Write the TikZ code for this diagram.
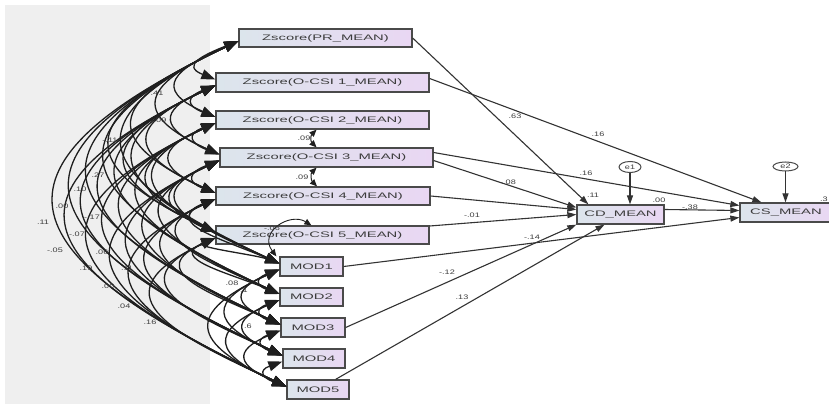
\documentclass[tikz,border=0pt]{standalone}
\usepackage{fontspec}
\setmainfont{Liberation Sans}
\usetikzlibrary{arrows.meta,calc,shapes.geometric}
\definecolor{bgl}{HTML}{EFEFEF}
\definecolor{boxl}{HTML}{DCE5EC}
\definecolor{boxr}{HTML}{E9D7F3}
\definecolor{edge}{HTML}{4A4A4A}
\definecolor{txt}{HTML}{3C3C3C}
\newcommand{\bt}[1]{\scalebox{1.85}[1]{\fontsize{8}{9}\selectfont #1}}
\newcommand{\lt}[1]{\scalebox{1.4}[1]{\fontsize{6.5}{7}\selectfont #1}}
\begin{document}
\begin{tikzpicture}[x=1pt,y=-1pt,
  box/.style={draw=edge,line width=1.3pt,left color=boxl,right color=boxr,inner sep=0pt,text=txt},
  pth/.style={draw=black!80,line width=1.1pt,-{Triangle[length=9pt,width=6pt]}},
  cov/.style={draw=black!88,line width=1.3pt,{Triangle[length=14pt,width=10pt]}-{Triangle[length=14pt,width=10pt]}},
  scov/.style={draw=black!88,line width=1pt,{Triangle[length=7pt,width=6pt]}-{Triangle[length=7pt,width=6pt]}},
  lab/.style={text=txt,inner sep=0pt},
  err/.style={ellipse,draw=edge,line width=1pt,fill=white,inner sep=0pt,minimum width=22pt,minimum height=11pt,text=txt}]
\useasboundingbox (0,0) rectangle (829,406);
\fill[white] (0,0) rectangle (829,406);
\fill[bgl] (5,5) rectangle (210,404);

% observed variables
\node[box,minimum width=173pt,minimum height=18pt] (PR) at (325.5,38) {\bt{Zscore(PR\_MEAN)}};
\node[box,minimum width=213pt,minimum height=19pt] (C1) at (322.5,82.5) {\bt{Zscore(O-CSI 1\_MEAN)}};
\node[box,minimum width=213pt,minimum height=18pt] (C2) at (322.5,120) {\bt{Zscore(O-CSI 2\_MEAN)}};
\node[box,minimum width=213pt,minimum height=19pt] (C3) at (326.5,157.5) {\bt{Zscore(O-CSI 3\_MEAN)}};
\node[box,minimum width=214pt,minimum height=18pt] (C4) at (323,196) {\bt{Zscore(O-CSI 4\_MEAN)}};
\node[box,minimum width=213pt,minimum height=18pt] (C5) at (322.5,235) {\bt{Zscore(O-CSI 5\_MEAN)}};
\node[box,minimum width=63pt,minimum height=19pt] (M1) at (311.5,266.5) {\bt{MOD1}};
\node[box,minimum width=63pt,minimum height=18pt] (M2) at (311.5,297) {\bt{MOD2}};
\node[box,minimum width=64pt,minimum height=19pt] (M3) at (313,327.5) {\bt{MOD3}};
\node[box,minimum width=62pt,minimum height=19pt] (M4) at (314,358.5) {\bt{MOD4}};
\node[box,minimum width=62pt,minimum height=19pt] (M5) at (318,389.5) {\bt{MOD5}};
\node[box,minimum width=87pt,minimum height=19pt] (CD) at (620.5,214.5) {\bt{CD\_MEAN}};
\node[box,minimum width=92pt,minimum height=19pt] (CS) at (786,212.5) {\bt{CS\_MEAN}};
\node[err] (e1) at (630,167) {\lt{e1}};
\node[err,minimum width=25pt,minimum height=9pt] (e2) at (785.5,166.5) {\lt{e2}};

% covariances (left side)
\def\names{PR,C1,C2,C3,C4,C5,M1,M2,M3,M4,M5}
\def\ys{{38,82.5,120,157.5,196,235,266.5,297,327.5,358.5,389.5}}
\foreach \a [count=\i] in \names {
  \foreach \b [count=\j] in \names {
    \ifnum\j>\i
      \pgfmathsetmacro\dd{\ys[\j-1]-\ys[\i-1]}
      \pgfmathsetmacro\kk{0.78*\dd}
      \pgfmathsetmacro\cc{0.38*\dd}
      \draw[cov] ($(\a.west)+(0,3)$) .. controls ($(\a.west)+(-\kk,\cc)$) and ($(\b.west)+(-\kk,-\cc)$) .. ($(\b.west)+(0,-3)$);
    \fi
  }
}
% covariances drawn between boxes
\draw[scov] ($(C2.south)+(-6,0)$) .. controls +(-6,6) and +(-6,-6) .. ($(C3.north)+(-10,0)$);
\draw[scov] ($(C3.south)+(-10,0)$) .. controls +(-6,6) and +(-6,-6) .. ($(C4.north)+(-6,0)$);
\draw[scov,line width=0.9pt] ($(M1.north west)+(-3,0)$) .. controls (258,232) and (290,212) .. ($(C5.north west)+(96,0)$);
\node[lab] at (304,138) {\lt{.09}};
\node[lab] at (302,177) {\lt{.09}};
\node[lab] at (272,228) {\lt{-.06}};

% covariance labels (left)
\foreach \t/\px/\py in {.27/98/175,.10/80/189,.00/62/206,.11/43/222,-.17/92/217,-.07/77/234,-.05/55/250,.06/102/252,.19/86/268,.00/108/286,.11/127/268,.41/157/93,-.11/110/140,.09/160/120,.04/124/306,.16/150/322,.08/232/283,.1/244/290,.6/248/326}
  \node[lab] at (\px,\py) {\lt{\t}};

% regression paths
\draw[pth] (PR.east) -- ($(CD.north west)+(12,0)$);
\draw[pth] ($(C1.east)+(0,-4)$) -- ($(CS.north west)+(22,0)$);
\draw[pth] ($(C3.east)+(0,-5)$) -- ($(CS.west)+(0,-7)$);
\draw[pth] ($(C3.east)+(0,3)$) -- ($(CD.west)+(0,-7)$);
\draw[pth] (C4.east) -- ($(CD.west)+(0,-5)$);
\draw[pth] ($(C5.east)+(0,-9)$) -- (CD.west);
\draw[pth] (M1.east) -- ($(CS.west)+(0,5)$);
\draw[pth] (M3.east) -- (CD.south west);
\draw[pth] ($(M5.north east)+(-14,0)$) -- ($(CD.south)+(-16,0)$);
\draw[pth] ($(CD.east)+(0,-5)$) -- ($(CS.west)+(0,-2)$);
\draw[pth,line width=1.2pt] (e1.south) -- (e1.south |- CD.north);
\draw[pth,line width=1.2pt] (e2.south) -- (e2.south |- CS.north);

% path labels
\node[lab] at (515,116) {\lt{.63}};
\node[lab] at (598,134) {\lt{.16}};
\node[lab] at (586,173) {\lt{.16}};
\node[lab] at (508,182) {\lt{-.08}};
\node[lab] at (593,195) {\lt{.11}};
\node[lab] at (472,215) {\lt{-.01}};
\node[lab] at (532,237) {\lt{-.14}};
\node[lab] at (447,272) {\lt{-.12}};
\node[lab] at (462,297) {\lt{.13}};
\node[lab] at (659,200) {\lt{.00}};
\node[lab] at (690,207) {\lt{-.38}};
\node[lab,anchor=west] at (820,199) {\lt{.3}};
\end{tikzpicture}
\end{document}
